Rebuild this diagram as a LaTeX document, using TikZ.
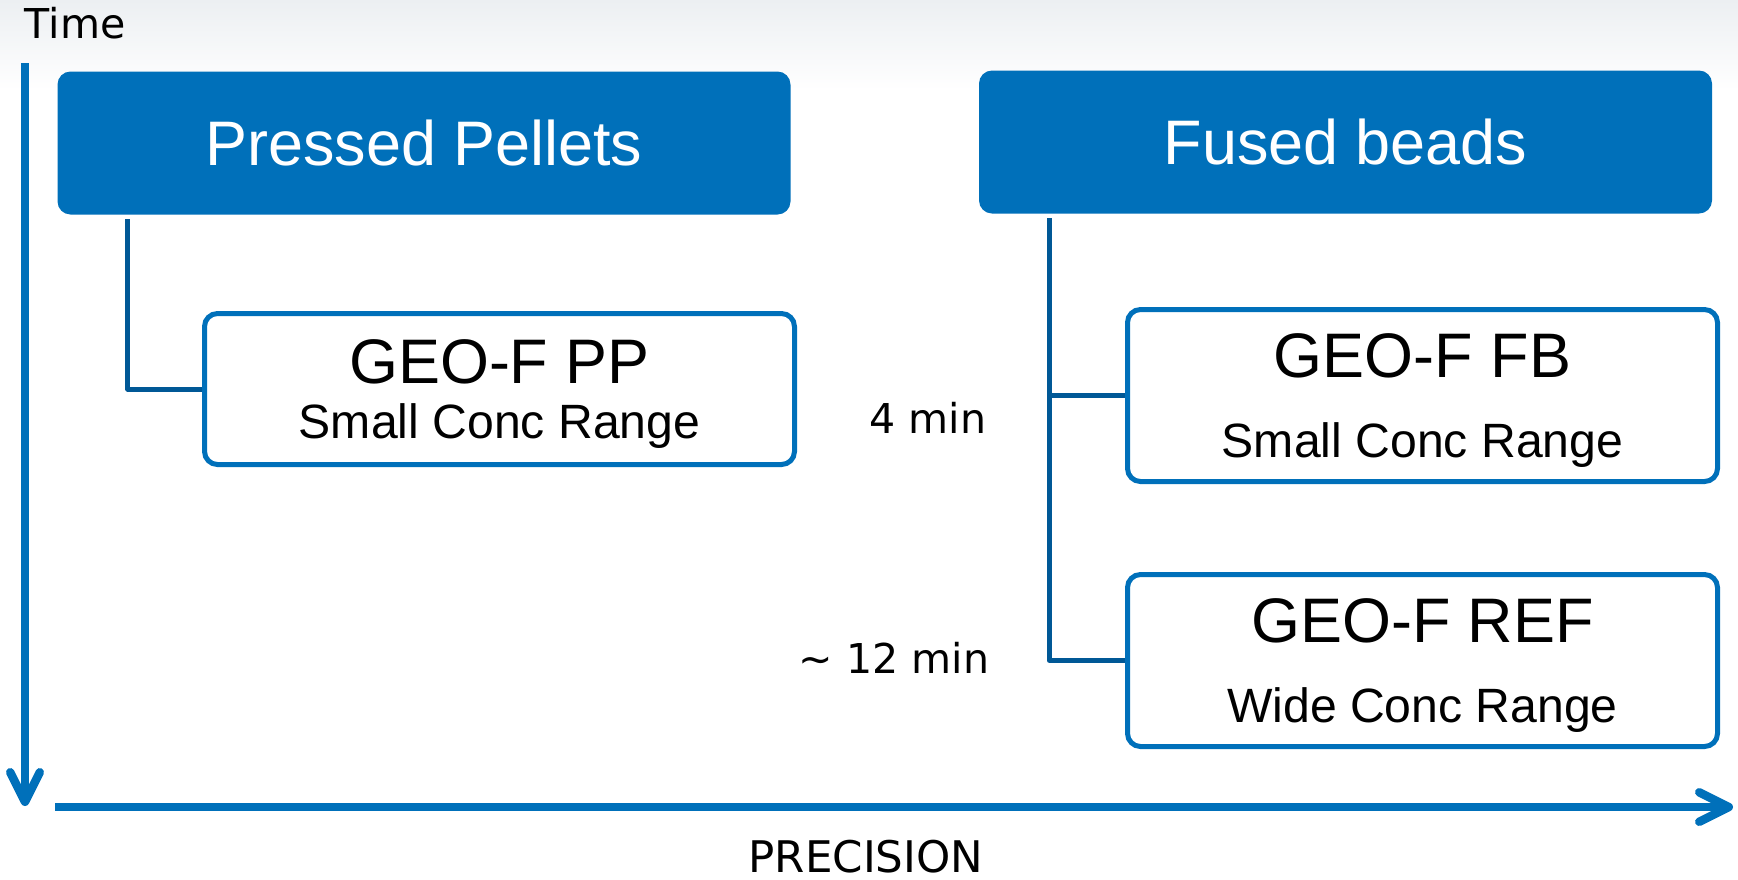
\documentclass[tikz,border=0pt]{standalone}
\usepackage{fontspec}
\setmainfont{Liberation Sans}
\newfontfamily\axisfont{DejaVu Sans}
\usetikzlibrary{arrows.meta,positioning}

\definecolor{geoBlue}{RGB}{0,112,186}
\definecolor{linkBlue}{RGB}{0,88,150}
\definecolor{skyGrey}{RGB}{236,239,242}

\newcommand{\subline}{\fontsize{13.7pt}{16pt}\selectfont}

\begin{document}
\begin{tikzpicture}[
    x=0.1mm, y=-0.1mm,
    headbox/.style={
        fill=geoBlue,
        text=white,
        rounded corners=1.3mm,
        inner sep=0pt,
        minimum width=73.3mm,
        minimum height=14.3mm,
        font=\fontsize{17.9pt}{21pt}\selectfont
    },
    kitbox/.style={
        draw=geoBlue,
        fill=white,
        line width=0.5mm,
        rounded corners=1.3mm,
        align=center,
        inner sep=0pt,
        text depth=0mm,
        minimum width=59mm,
        minimum height=17.2mm,
        font=\fontsize{17.9pt}{22.8pt}\selectfont
    },
    axislabel/.style={
        inner sep=0pt,
        font=\axisfont\fontsize{11.7pt}{14pt}\selectfont
    },
    axis/.style={
        draw=geoBlue,
        line width=0.85mm,
        -{Straight Barb[length=2.95mm,width=2.95mm,round]}
    },
    link/.style={
        draw=linkBlue,
        line width=0.5mm,
        line join=round
    }
]

% Page and faint top band
\useasboundingbox (0,0) rectangle (1738,879);
\fill[white] (0,0) rectangle (1738,879);
\shade[top color=skyGrey, bottom color=white] (0,0) rectangle (1738,90);

% Sample preparation
\node[headbox] (ppHead) at (424,143) {Pressed Pellets};
\node[headbox] (fbHead) at (1345.5,142) {Fused beads};

% Applications
\node[
    kitbox,
    minimum height=15.1mm,
    text depth=-0.6mm,
    font=\fontsize{17.9pt}{15.9pt}\selectfont
] (pp) at (499.5,389) {GEO-F PP\\{\subline Small Conc Range}};

\node[kitbox] (fb) at (1422.5,395.5) {GEO-F FB\\{\subline Small Conc Range}};
\node[kitbox, below=8.8mm of fb] (ref) {GEO-F REF\\{\subline Wide Conc Range}};

% Tree links
\draw[link] ([xshift=7.1mm,yshift=-0.4mm]ppHead.south west) |- (pp.west);

\coordinate (fbTrunk) at ([xshift=7.1mm,yshift=-0.4mm]fbHead.south west);
\draw[link] (fbTrunk) |- (ref.west);
\draw[link] (fbTrunk |- fb.west) -- (fb.west);

% Measuring times
\node[axislabel, anchor=base east] (shortTime) at (987,433) {4 min};
\node[axislabel, anchor=base east] (longTime) at (990,673) {\textasciitilde{} 12 min};

% Axes
\coordinate (timeTop) at (25,63);
\coordinate (timeEnd) at (25,806);
\draw[axis] (timeTop) -- (timeEnd);
\node[axislabel, anchor=base west] (timeLabel) at (24,38) {Time};

\coordinate (precStart) at (55,807);
\coordinate (precEnd) at (1733,807);
\draw[axis] (precStart) -- (precEnd);
\node[axislabel, font=\axisfont\fontsize{12.4pt}{15pt}\selectfont, anchor=base]
    (precLabel) at (866,872) {PRECISION};

\end{tikzpicture}
\end{document}
